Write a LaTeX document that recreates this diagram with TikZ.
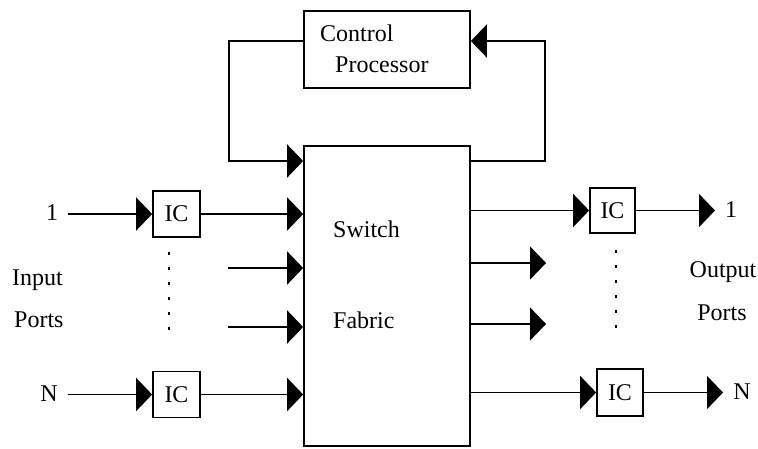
\documentclass[tikz,border=0pt]{standalone}
\usepackage{fontspec}
\setmainfont{Liberation Serif}
\usetikzlibrary{arrows.meta}
\begin{document}
\begin{tikzpicture}[x=1pt,y=-1pt,
  box/.style={draw,line width=1.7pt,inner sep=0pt,minimum width=#1},
  wire/.style={line width=1.7pt},
  arr/.style={wire,-{Triangle[length=16pt,width=33pt]}},
  lbl/.style={inner sep=0pt,font=\fontsize{24}{28}\selectfont},
  vdots/.style={line width=1.7pt,dash pattern=on 3pt off 12pt}]
\useasboundingbox (0,0) rectangle (758,448);

% main blocks
\node[box=166pt,minimum height=77pt] (cp) at (387,49.5) {};
\node[box=166pt,minimum height=300pt] (sf) at (387,296) {};
\node[lbl,anchor=west] (cpt1) at (320,33) {Control};
\node[lbl,anchor=west] (cpt2) at (335,65) {Processor};
\node[lbl,anchor=west] (sft1) at (333,229) {Switch};
\node[lbl,anchor=west] (sft2) at (333,320) {Fabric};

% input / output controllers
\node[box=47pt,minimum height=46pt,lbl] (ic1) at (176.5,214) {IC};
\node[box=47pt,minimum height=46pt,lbl] (icN) at (176.5,394.5) {IC};
\node[box=45pt,minimum height=45pt,lbl] (oc1) at (612.5,210.5) {IC};
\node[box=46pt,minimum height=47pt,lbl] (ocN) at (620,392.5) {IC};

% port labels
\node[lbl] (p1) at (52,213) {1};
\node[lbl] (pN) at (49,394) {N};
\node[lbl] (q1) at (731,210) {1};
\node[lbl] (qN) at (742,392) {N};
\node[lbl,anchor=west] (inl1) at (12,280) {Input};
\node[lbl,anchor=west] (inl2) at (14,320) {Ports};
\node[lbl] (outl1) at (723,272) {Output};
\node[lbl] (outl2) at (722,313) {Ports};

% free ends of the wires
\coordinate (s1) at (68,214);
\coordinate (sN) at (68,394.5);
\coordinate (in2) at (228,268);
\coordinate (in3) at (228,327);
\coordinate (o2) at (546,263);
\coordinate (o3) at (546,324);
\coordinate (t1) at (715,210.5);
\coordinate (tN) at (723,392.5);
\coordinate (fbL) at (229,41);
\coordinate (fbLB) at (229,161);
\coordinate (fbR) at (545,41);
\coordinate (fbRB) at (545,161);

% inputs
\draw[arr] (s1) -- (ic1.west);
\draw[arr] (ic1.east) -- (ic1.east -| sf.west);
\draw[arr] (in2) -- (in2 -| sf.west);
\draw[arr] (in3) -- (in3 -| sf.west);
\draw[arr] (sN) -- (icN.west);
\draw[arr] (icN.east) -- (icN.east -| sf.west);

% outputs
\draw[arr] (sf.east |- oc1.west) -- (oc1.west);
\draw[arr] (oc1.east) -- (t1);
\draw[arr] (sf.east |- o2) -- (o2);
\draw[arr] (sf.east |- o3) -- (o3);
\draw[arr] (sf.east |- ocN.west) -- (ocN.west);
\draw[arr] (ocN.east) -- (tN);

% control loop
\draw[arr] (cp.west |- fbL) -- (fbL) -- (fbLB) -- (fbLB -| sf.west);
\draw[arr] (sf.east |- fbRB) -- (fbRB) -- (fbR) -- (fbR -| cp.east);

% elided ports
\draw[vdots] (169,252) -- (169,330);
\draw[vdots] (616,250) -- (616,330);
\end{tikzpicture}
\end{document}
